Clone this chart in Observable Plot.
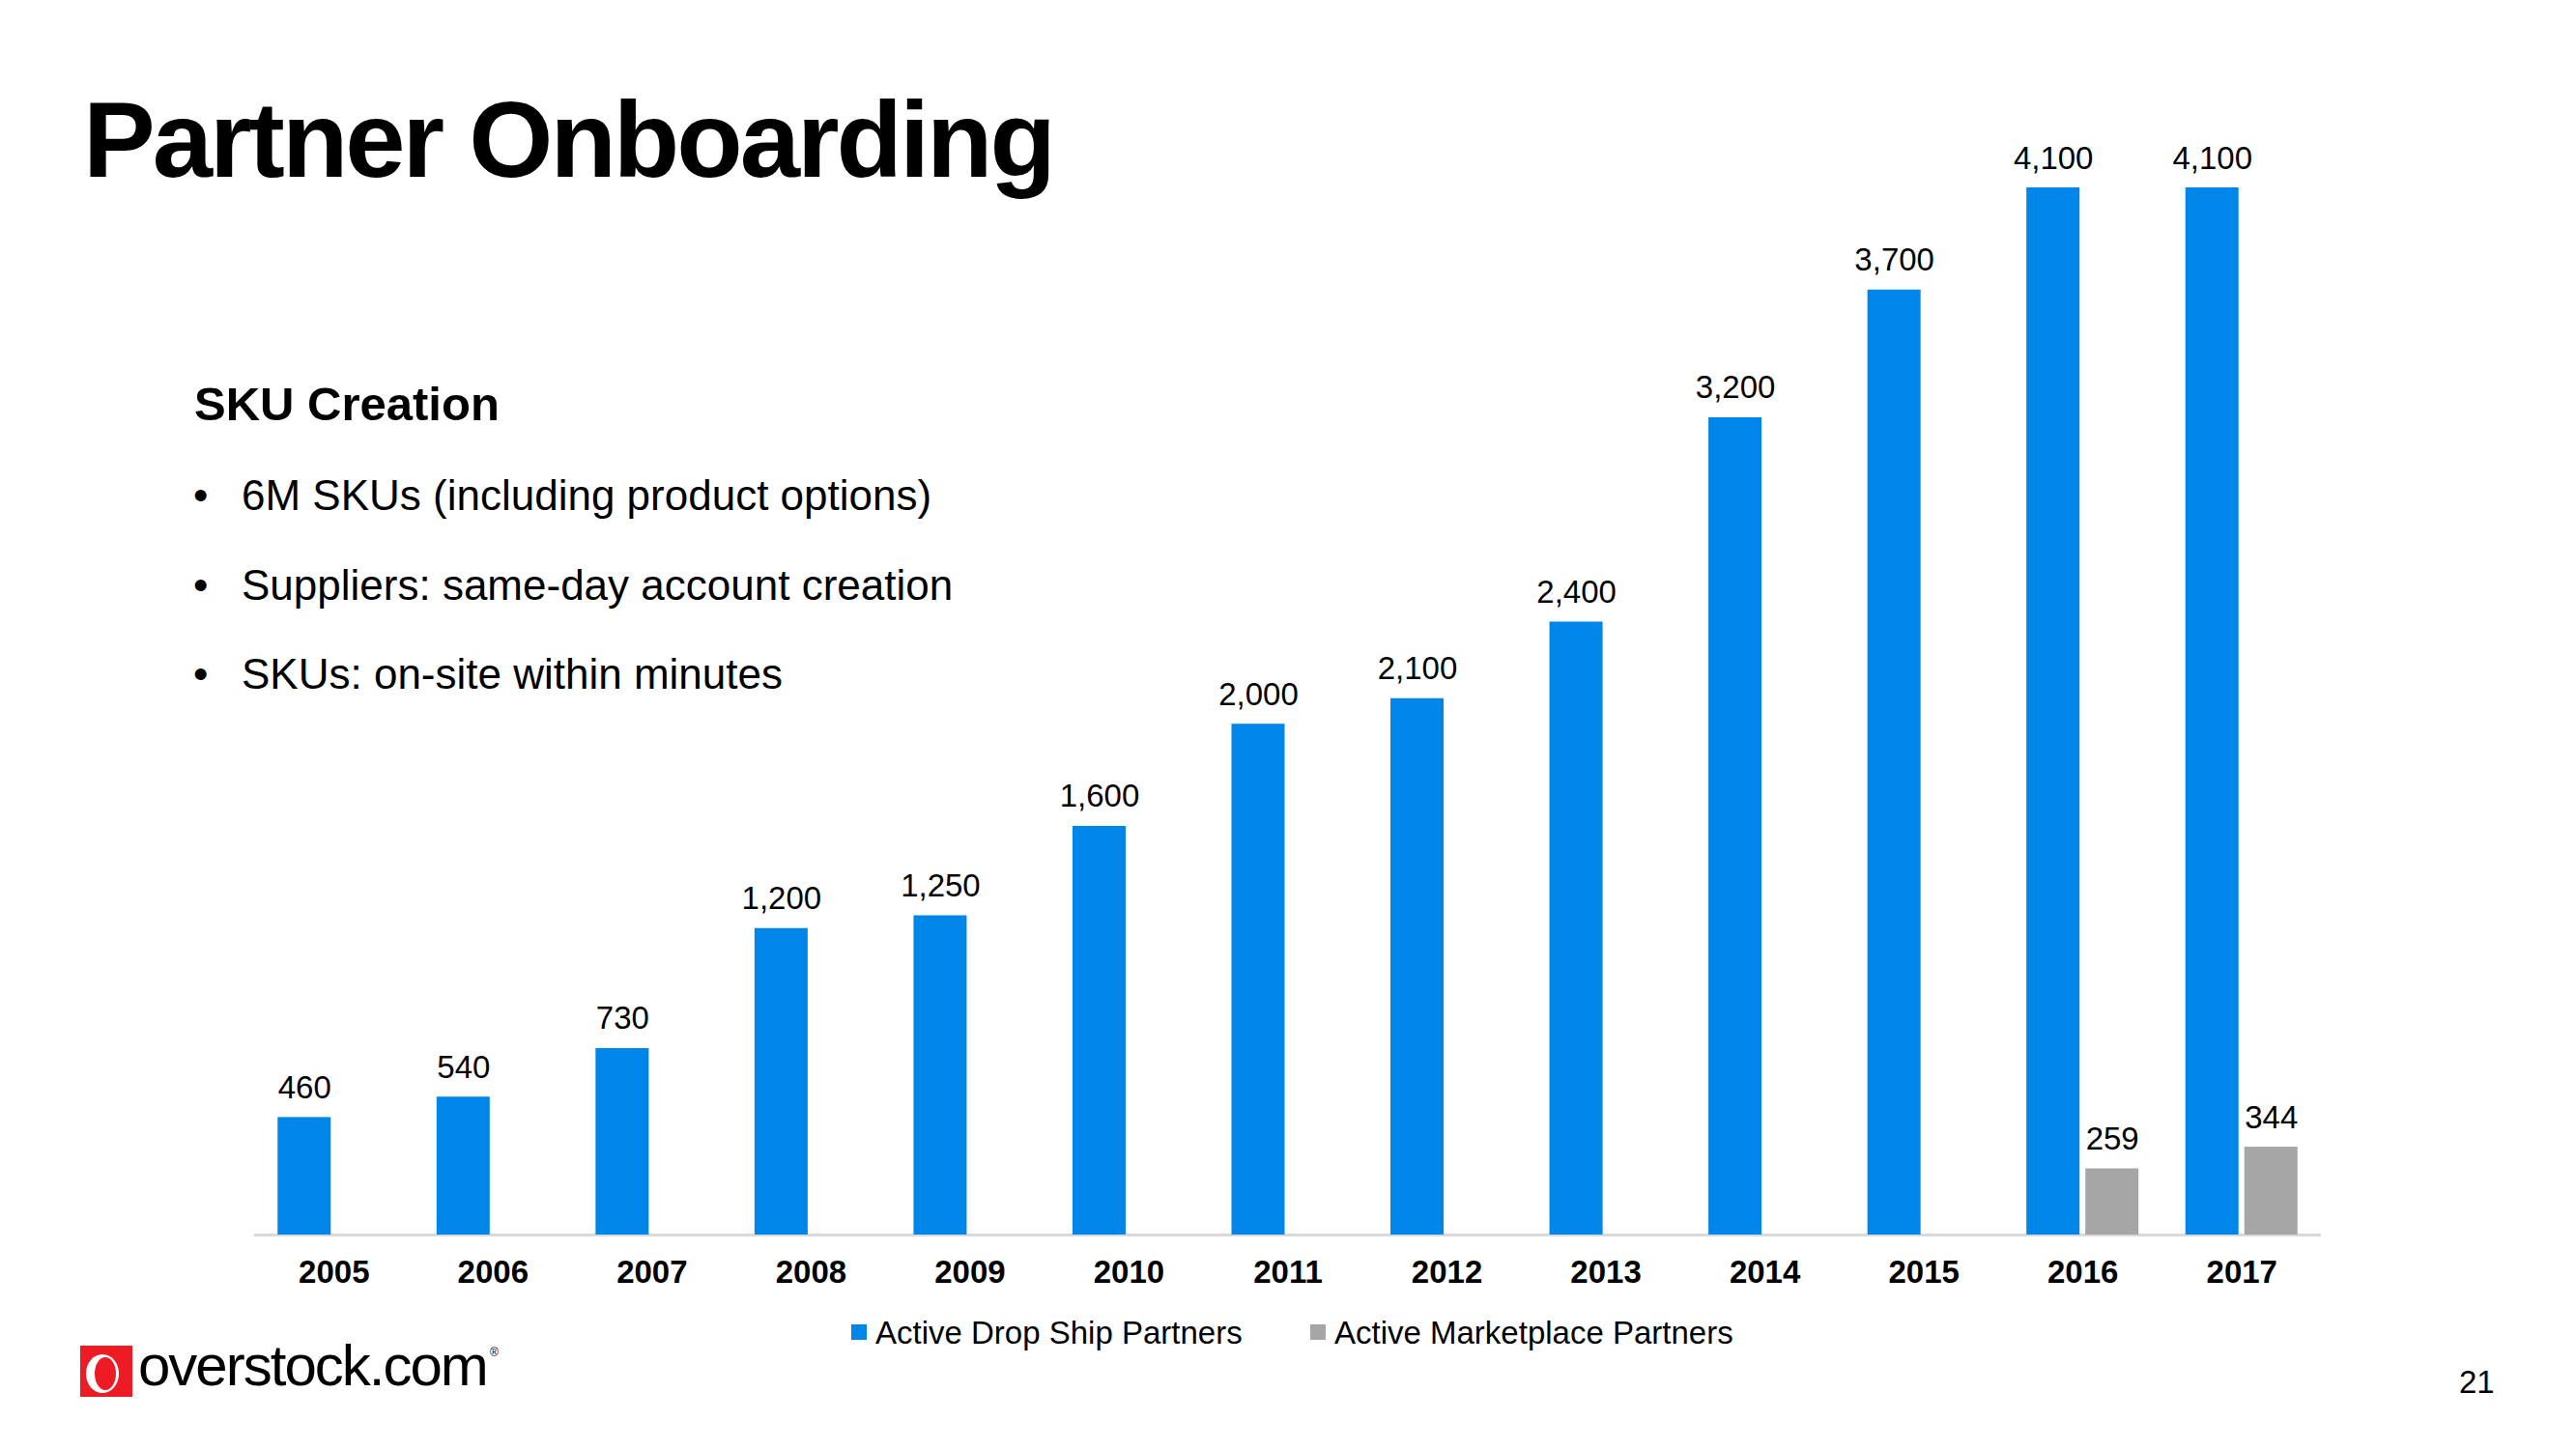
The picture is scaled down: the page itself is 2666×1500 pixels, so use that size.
<!DOCTYPE html>
<html>
<head>
<meta charset="utf-8">
<script src="https://cdn.jsdelivr.net/npm/d3@7"></script>
<script src="https://cdn.jsdelivr.net/npm/@observablehq/plot@0.6"></script>
<style>
  html, body { margin: 0; padding: 0; background: #fff; }
  #page { position: relative; width: 2666px; height: 1500px; background: #fff; overflow: hidden;
          font-family: "Liberation Sans", Arial, Helvetica, sans-serif; color: #000; }
  .abs { position: absolute; line-height: 1; white-space: nowrap; }
  #chart { position: absolute; left: 0; top: 0; }
  #chart g[aria-label="x-axis tick label"] text { font-weight: bold; }
</style>
</head>
<body>
<div id="page">
  <div id="chart"></div>
  <div class="abs" id="title" style="left:86px; top:89px; font-size:112px; font-weight:bold; letter-spacing:-3px;"></div>
  <div class="abs" id="subhead" style="left:201px; top:393.5px; font-size:49px; font-weight:bold;"></div>
  <div id="bullets"></div>
  <div id="legend"></div>
  <div class="abs" id="pagenum" style="left:2545px; top:1414px; font-size:33px;"></div>
  <div id="logo" style="position:absolute; left:83px; top:1393px;">
    <svg width="54" height="53" viewBox="0 0 54 53" style="display:block">
      <rect x="0" y="0" width="54" height="53" fill="#ED1C24"/>
      <ellipse cx="23" cy="29" rx="17" ry="20" fill="#fff"/>
      <ellipse cx="26" cy="29" rx="11" ry="17" fill="#ED1C24"/>
    </svg>
  </div>
  <div class="abs" id="logotext" style="left:143px; top:1384px; font-size:60px; letter-spacing:-2px;"></div>
  <div class="abs" id="logoreg" style="left:507px; top:1394px; font-size:12px;">®</div>
</div>
<script>
// ---- Data ----
const years = ["2005","2006","2007","2008","2009","2010","2011","2012","2013","2014","2015","2016","2017"];
const dropShip = [460, 540, 730, 1200, 1250, 1600, 2000, 2100, 2400, 3200, 3700, 4100, 4100];
const marketplace = [null, null, null, null, null, null, null, null, null, null, null, 259, 344];
const seriesNames = ["Active Drop Ship Partners", "Active Marketplace Partners"];
const seriesColors = ["#0086E8", "#A6A6A6"];

const titleText = "Partner Onboarding";
const subheadText = "SKU Creation";
const bulletTexts = [
  "6M SKUs (including product options)",
  "Suppliers: same-day account creation",
  "SKUs: on-site within minutes"
];
const pageNumber = "21";
const logoText = "overstock.com";

// ---- Tables ----
const dropRows = years.map((year, i) => ({year, series: seriesNames[0], value: dropShip[i]}));
const mktRows = years.map((year, i) => ({year, series: seriesNames[1], value: marketplace[i]}))
  .filter(d => d.value != null);
const fmt = d3.format(",");

const chart = Plot.plot({
  width: 2666,
  height: 1350,
  marginLeft: 263,
  marginRight: 264,
  marginTop: 194,
  marginBottom: 72,
  style: {fontFamily: '"Liberation Sans", Arial, Helvetica, sans-serif', background: "transparent", color: "#000"},
  x: {domain: years, paddingInner: 0.295, paddingOuter: 0.1475, round: false, axis: null},
  y: {domain: [0, 4100], axis: null},
  marks: [
    Plot.ruleY([0], {stroke: "#D9D9D9", strokeWidth: 3}),
    Plot.barY(dropRows, {x: "year", y: "value", fill: seriesColors[0], insetRight: 61}),
    Plot.barY(mktRows, {x: "year", y: "value", fill: seriesColors[1], insetLeft: 61}),
    Plot.text(dropRows, {x: "year", y: "value", text: d => fmt(d.value), dx: -30.5, dy: -20,
      lineAnchor: "bottom", fontSize: 33, fill: "#000"}),
    Plot.text(mktRows, {x: "year", y: "value", text: d => fmt(d.value), dx: 30.5, dy: -20,
      lineAnchor: "bottom", fontSize: 33, fill: "#000"}),
    Plot.axisX({tickSize: 0, tickPadding: 26, fontSize: 33, fontWeight: "bold", fill: "#000", label: null})
  ]
});
document.getElementById("chart").appendChild(chart);

// ---- Text ----
document.getElementById("title").textContent = titleText;
document.getElementById("subhead").textContent = subheadText;
document.getElementById("pagenum").textContent = pageNumber;
document.getElementById("logotext").textContent = logoText;

const bulletBaselines = [528, 621, 713];
const bulletsEl = document.getElementById("bullets");
bulletTexts.forEach((t, i) => {
  const top = bulletBaselines[i] - 0.8465 * 44;
  const dot = document.createElement("div");
  dot.className = "abs";
  dot.style.cssText = `left:200px; top:${top}px; font-size:44px;`;
  dot.textContent = "•";
  const txt = document.createElement("div");
  txt.className = "abs";
  txt.style.cssText = `left:250px; top:${top}px; font-size:44px;`;
  txt.textContent = t;
  bulletsEl.appendChild(dot);
  bulletsEl.appendChild(txt);
});

// ---- Legend ----
const legendEl = document.getElementById("legend");
const legendX = [881, 1356];
seriesNames.forEach((name, i) => {
  const sw = document.createElement("div");
  sw.style.cssText = `position:absolute; left:${legendX[i]}px; top:1371px; width:16px; height:16px; background:${seriesColors[i]};`;
  const tx = document.createElement("div");
  tx.className = "abs";
  tx.style.cssText = `left:${legendX[i] + 25}px; top:${1391 - 0.8465 * 33}px; font-size:33px;`;
  tx.textContent = name;
  legendEl.appendChild(sw);
  legendEl.appendChild(tx);
});
</script>
</body>
</html>
